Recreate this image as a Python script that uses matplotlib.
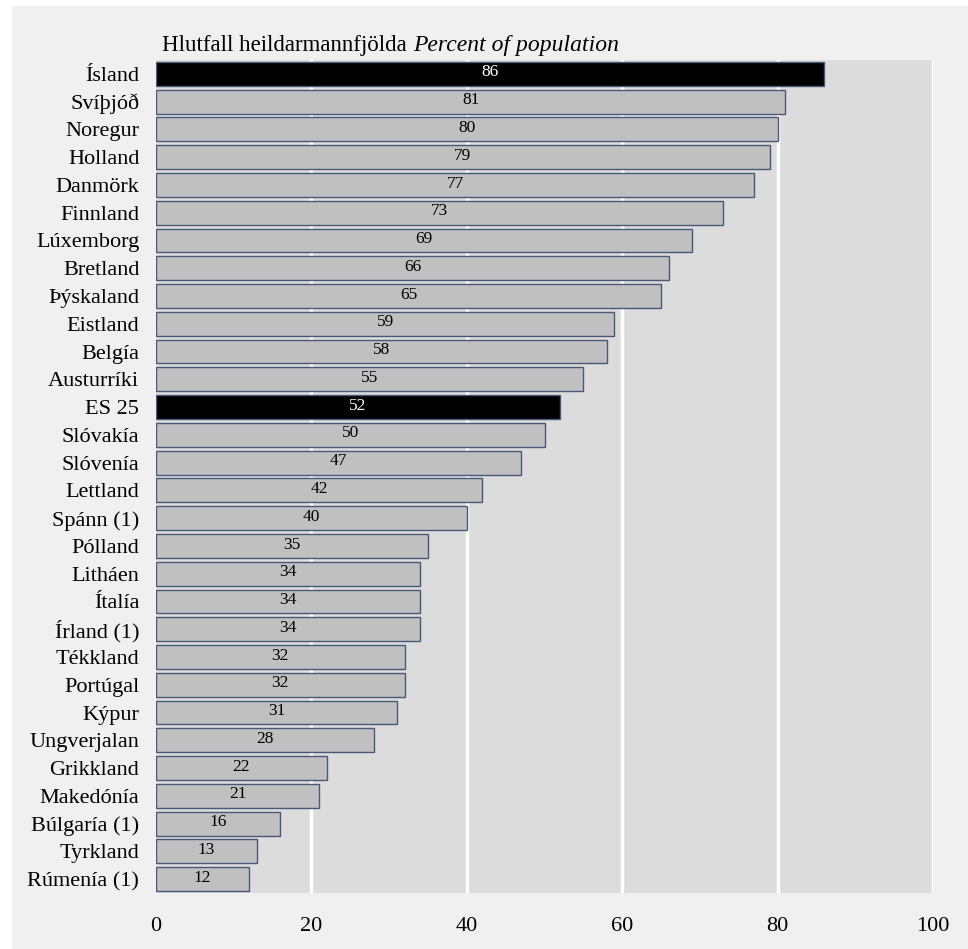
import matplotlib.pyplot as plt
from matplotlib.patches import Rectangle

countries = ["Ísland", "Svíþjóð", "Noregur", "Holland", "Danmörk", "Finnland",
             "Lúxemborg", "Bretland", "Þýskaland", "Eistland", "Belgía",
             "Austurríki", "ES 25", "Slóvakía", "Slóvenía", "Lettland",
             "Spánn (1)", "Pólland", "Litháen", "Ítalía", "Írland (1)",
             "Tékkland", "Portúgal", "Kýpur", "Ungverjalan", "Grikkland",
             "Makedónía", "Búlgaría (1)", "Tyrkland", "Rúmenía (1)"]
values = [86, 81, 80, 79, 77, 73, 69, 66, 65, 59, 58, 55, 52, 50, 47, 42,
          40, 35, 34, 34, 34, 32, 32, 31, 28, 22, 21, 16, 13, 12]
highlight = ["Ísland", "ES 25"]
xticks = [0, 20, 40, 60, 80, 100]

plt.rcParams['font.family'] = ['Liberation Serif', 'DejaVu Serif']

fig = plt.figure(figsize=(9.68, 9.49), dpi=100)
fig.patch.set_facecolor("white")
fig.patches.append(Rectangle((12 / 968, 0), 1, 1 - 6 / 949,
                             transform=fig.transFigure, facecolor="#f0f0f0",
                             edgecolor="none", zorder=-10))

ax = fig.add_axes([156 / 968, 1 - 893 / 949, (933 - 156) / 968, (893 - 60) / 949])
ax.set_facecolor("#dcdcdc")

ypos = list(range(len(countries)))
colors = ["black" if c in highlight else "#c0c0c0" for c in countries]
ax.barh(ypos, values, height=0.86, color=colors, edgecolor="#4a5878",
        linewidth=1.0, zorder=3)

for y, v, c in zip(ypos, values, countries):
    tc = "white" if c in highlight else "black"
    ax.text(v / 2, y - 0.05, str(v), ha="center", va="center", fontsize=12.5,
            color=tc, zorder=4)

ax.set_ylim(len(countries) - 0.5, -0.5)
ax.set_xlim(0, 100)
ax.set_xticks(xticks)
ax.set_xticklabels([str(t) for t in xticks], fontsize=16)
ax.set_yticks(ypos)
ax.set_yticklabels(countries, fontsize=16)
ax.tick_params(axis="both", length=0)
ax.tick_params(axis="x", pad=17)
ax.tick_params(axis="y", pad=12)
for x in xticks[1:]:
    ax.axvline(x, color="white", linewidth=2.5, zorder=1)
for s in ax.spines.values():
    s.set_visible(False)

fig.text(162 / 968, 1 - 45 / 949, "Hlutfall heildarmannfjölda", fontsize=16.5,
         ha="left", va="center")
fig.text(413 / 968, 1 - 45 / 949, "Percent of population", fontsize=17,
         ha="left", va="center", style="italic")

fig.savefig("out.png", dpi=100, facecolor=fig.get_facecolor())
